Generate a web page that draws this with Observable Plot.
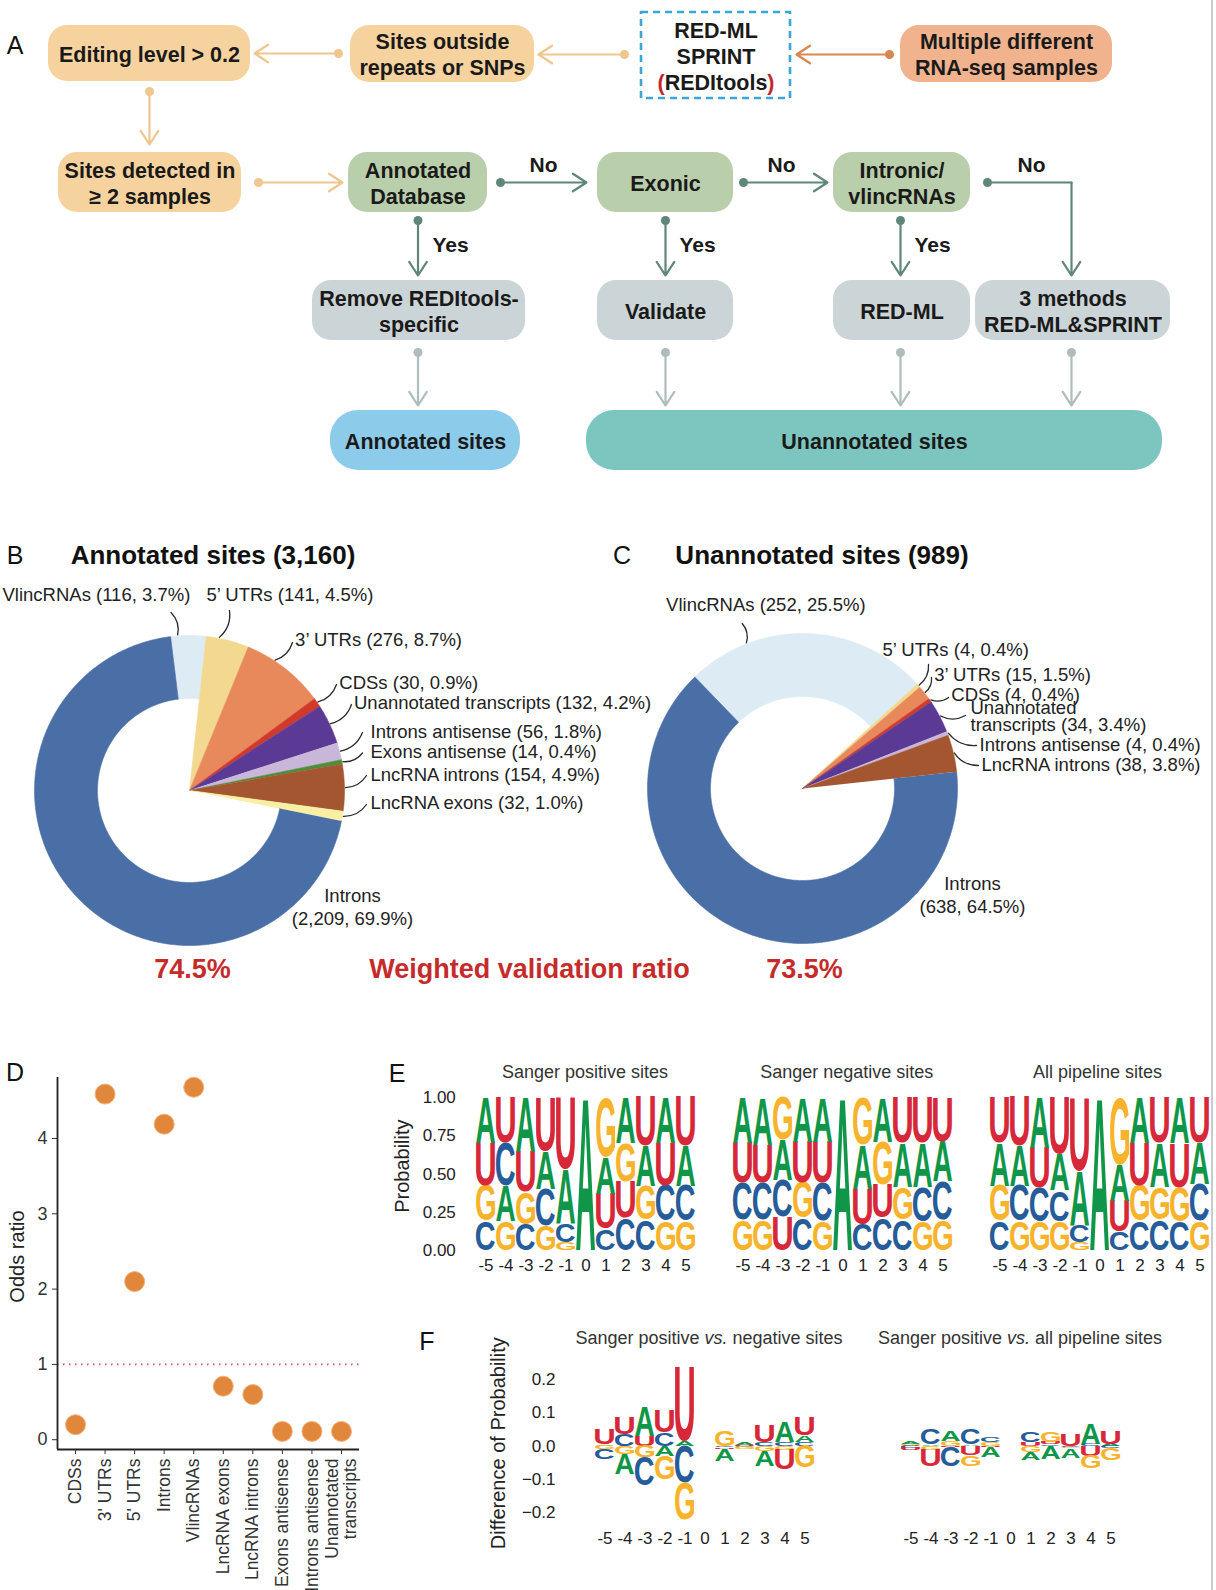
<!DOCTYPE html>
<html><head><meta charset="utf-8">
<script src="https://cdn.jsdelivr.net/npm/d3@7"></script>
<script src="https://cdn.jsdelivr.net/npm/@observablehq/plot@0.6"></script>
<style>
html,body{margin:0;padding:0;background:#fff;overflow:hidden;}
#fig{position:relative;width:1216px;height:1590px;overflow:hidden;font-family:"Liberation Sans",Arial,Helvetica,sans-serif;color:#111;}
.abs{position:absolute;white-space:nowrap;line-height:1;transform:translate(-50%,-50%);}
</style></head>
<body><div id="fig"></div>
<script>
// ---------------- DATA ----------------
// Panel A flowchart texts
const flowLabels = ["Editing level > 0.2","Sites outside\nrepeats or SNPs","Multiple different\nRNA-seq samples",
  "Sites detected in\n≥ 2 samples","Annotated\nDatabase","Exonic","Intronic/\nvlincRNAs",
  "Remove REDItools-\nspecific","Validate","RED-ML","3 methods\nRED-ML&SPRINT"];
const siteLabels = ["Annotated sites","Unannotated sites"];
const toolLabel = "RED-ML\nSPRINT\n(REDItools)";
// Panel B / C
const pieCats = ["VlincRNAs","5’ UTRs","3’ UTRs","CDSs","Unannotated transcripts","Introns antisense","Exons antisense","LncRNA introns","LncRNA exons","Introns"];
const pieColors = ["#dcebf4","#f3d98f","#e8895c","#d13a2b","#5b3a96","#c9b6d9","#4b8f3b","#a3562f","#f6efa4","#4a6ea6"];
const ringCats = ["Introns","VlincRNAs"];
const annotatedCats = ["VlincRNAs","5’ UTRs","3’ UTRs","CDSs","Unannotated transcripts","Introns antisense","Exons antisense","LncRNA introns","LncRNA exons","Introns"];
const annotatedCounts = [116,141,276,30,132,56,14,154,32,2209];
const unannotatedCats = ["VlincRNAs","5’ UTRs","3’ UTRs","CDSs","Unannotated transcripts","Introns antisense","LncRNA introns","Introns"];
const unannotatedCounts = [252,4,15,4,34,4,38,638];
const validationRatio = ["74.5%","73.5%"];
// Panel D
const oddsCats = ["CDSs","3' UTRs","5' UTRs","Introns","VlincRNAs","LncRNA exons","LncRNA introns","Exons antisense","Introns antisense","Unannotated\ntranscripts"];
const oddsRatio = [0.2,4.59,2.1,4.19,4.68,0.71,0.6,0.11,0.11,0.11];
// Panel E (probabilities per position -5..5)
const logoPositions = [-5,-4,-3,-2,-1,0,1,2,3,4,5];
const nuc = ["A","C","G","U"];
const posA = [0.30,0.23,0.36,0.25,0.36,1,0.24,0.30,0.26,0.30,0.26];
const posC = [0.19,0.28,0.17,0.24,0.12,0,0.14,0.21,0.20,0.23,0.23];
const posG = [0.23,0.19,0.21,0.16,0.05,0,0.39,0.25,0.22,0.19,0.19];
const posU = [0.28,0.30,0.26,0.35,0.47,0,0.23,0.24,0.32,0.28,0.32];
const negA = [0.30,0.31,0.26,0.29,0.29,1,0.29,0.29,0.29,0.29,0.26];
const negC = [0.24,0.24,0.24,0.21,0.25,0,0.17,0.21,0.20,0.22,0.25];
const negG = [0.20,0.20,0.28,0.23,0.19,0,0.31,0.28,0.21,0.19,0.20];
const negU = [0.26,0.25,0.22,0.27,0.27,0,0.23,0.22,0.30,0.30,0.29];
const allA = [0.28,0.26,0.33,0.24,0.36,1,0.24,0.30,0.29,0.30,0.27];
const allC = [0.19,0.23,0.22,0.20,0.11,0,0.12,0.19,0.20,0.19,0.24];
const allG = [0.23,0.19,0.19,0.19,0.05,0,0.44,0.23,0.21,0.22,0.19];
const allU = [0.30,0.32,0.26,0.37,0.48,0,0.20,0.28,0.30,0.29,0.30];
// Panel F (difference of probability)
const dPN_A = [0.005,-0.06,0.09,-0.03,0.015,0,-0.035,0.008,-0.045,0.06,0.02];
const dPN_C = [-0.03,0.035,-0.085,0.04,-0.11,0,-0.005,-0.004,0.01,0.012,0.01];
const dPN_G = [-0.01,-0.025,-0.035,-0.07,-0.11,0,0.045,-0.006,-0.015,-0.012,-0.065];
const dPN_U = [0.045,0.05,0.03,0.065,0.22,0,-0.005,0.002,0.05,-0.06,0.055];
const dPA_A = [0.008,0.005,0.03,0.004,-0.03,0,-0.022,-0.04,-0.028,0.062,0.006];
const dPA_C = [-0.006,0.045,-0.058,0.045,0.016,0,0.03,0.004,-0.004,0.006,-0.008];
const dPA_G = [0.006,-0.012,0.015,-0.033,0.012,0,-0.02,0.032,-0.004,-0.038,-0.034];
const dPA_U = [-0.008,-0.05,-0.005,-0.027,-0.004,0,0.01,0.006,0.033,-0.03,0.04];

// ---------------- LAYOUT / STYLE ----------------
const FONT = '"Liberation Sans", Arial, Helvetica, sans-serif';
const LOGOFONT = '"Liberation Sans"';
const nucColors = ["#109648","#255C99","#F7B32B","#D62839"];
const baseStyle = {fontFamily: FONT, background: "transparent", overflow: "visible", maxWidth: "none"};
const fig = document.getElementById("fig");
function place(el, left, top){ el.style.position="absolute"; el.style.left=left+"px"; el.style.top=top+"px"; fig.appendChild(el); return el; }
function txt(html, cx, cy, css){ const d=document.createElement("div"); d.className="abs"; d.innerHTML=html; d.style.cssText += `left:${cx}px;top:${cy}px;`+(css||""); fig.appendChild(d); return d; }

const C_TAN="#F6D39E", C_PEACH="#F1B38E", C_SAGE="#B9CEAA", C_GRAY="#CBD4D6", C_LBLUE="#8DCBEB", C_TEAL="#7DC6BF";
const A_TAN="#EEC68E", A_OR="#D8874F", A_GR="#5F8679", A_LT="#AEBDBC";
// box frames for flowLabels (pixel layout)
const flowBoxFrames = [
  [48,250,25,81,C_TAN],[350,534,25,82,C_TAN],[900,1112,25,82,C_PEACH],
  [58,241,152,212,C_TAN],[348,487,152,212,C_SAGE],[597,733,152,212,C_SAGE],[833,970,152,212,C_SAGE],
  [312,525,280,340,C_GRAY],[597,733,280,340,C_GRAY],[833,970,280,340,C_GRAY],[975,1170,280,340,C_GRAY]];
const siteFrames = [[330,520,410,470,C_LBLUE],[586,1162,410,470,C_TEAL]];
const toolFrame = [641,790,12,98];
const flowArrowLayout = [
  [338,53,254,53,A_TAN,1],[624,54,538,54,A_TAN,1],[889,54,796,54,A_OR,1],
  [149,91,149,144,A_TAN,1],[258,182,342,182,A_TAN,1],[500,182,586,182,A_GR,1],[743,182,827,182,A_GR,1],
  [417.5,220,417.5,275,A_GR,1],[665,220,665,275,A_GR,1],[900,220,900,275,A_GR,1],[1071,182,1071,275,A_GR,0],
  [417.5,352,417.5,405,A_LT,1],[665,352,665,405,A_LT,1],[900,352,900,405,A_LT,1],[1071,352,1071,405,A_LT,1]];
const flowNotes = [["No",543,165],["No",781,165],["No",1031,165],["Yes",450,245],["Yes",697,245],["Yes",932,245]];

// ---------------- PANEL A ----------------
function drawFlow(){
  const boxes = flowLabels.map((t,i)=>({label:t,x1:flowBoxFrames[i][0],x2:flowBoxFrames[i][1],y1:flowBoxFrames[i][2],y2:flowBoxFrames[i][3],fill:flowBoxFrames[i][4]}));
  const sites = siteLabels.map((t,i)=>({label:t,x1:siteFrames[i][0],x2:siteFrames[i][1],y1:siteFrames[i][2],y2:siteFrames[i][3],fill:siteFrames[i][4]}));
  const tool = [{label:toolLabel,x1:toolFrame[0],x2:toolFrame[1],y1:toolFrame[2],y2:toolFrame[3]}];
  const arrows = flowArrowLayout.map(a=>({x1:a[0],y1:a[1],x2:a[2],y2:a[3],c:a[4],dot:a[5]}));
  const elbow = [{x:987,y:182},{x:1071,y:182}];
  const notes = flowNotes.map(n=>({t:n[0],x:n[1],y:n[2]}));
  const all = boxes.concat(sites, tool);
  const p = Plot.plot({
    width:1216, height:480, margin:0,
    x:{domain:[0,1216], range:[0,1216], axis:null},
    y:{domain:[0,480], range:[0,480], axis:null},
    color:{type:"identity"},
    style: baseStyle,
    marks:[
      Plot.rect(boxes,{x1:"x1",x2:"x2",y1:"y1",y2:"y2",fill:"fill",rx:19}),
      Plot.rect(sites,{x1:"x1",x2:"x2",y1:"y1",y2:"y2",fill:"fill",rx:28}),
      Plot.rect(tool,{x1:"x1",x2:"x2",y1:"y1",y2:"y2",fill:"none",stroke:"#3AA6D8",strokeWidth:2.6,strokeDasharray:"7,5"}),
      Plot.line(elbow,{x:"x",y:"y",stroke:A_GR,strokeWidth:2.2}),
      Plot.dot([elbow[0]],{x:"x",y:"y",r:4.5,fill:A_GR}),
      Plot.arrow(arrows,{x1:"x1",y1:"y1",x2:"x2",y2:"y2",stroke:"c",strokeWidth:2.2,headLength:11,headAngle:66}),
      Plot.dot(arrows.filter(d=>d.dot),{x:"x1",y:"y1",r:4.5,fill:"c"}),
      Plot.text(all,{x:d=>(d.x1+d.x2)/2,y:d=>(d.y1+d.y2)/2,text:"label",fontWeight:"bold",fontSize:21.5,lineHeight:1.2,fill:"#1a1a1a"}),
      Plot.text(notes,{x:"x",y:"y",text:"t",fontWeight:"bold",fontSize:21,fill:"#1a1a1a"})
    ]
  });
  place(p,0,0);
  p.querySelectorAll("tspan").forEach(ts=>{
    if (ts.textContent === "(REDItools)") ts.innerHTML = '<tspan fill="#C4262E">(</tspan>REDItools<tspan fill="#C4262E">)</tspan>';
  });
}

// ---------------- PANELS B / C ----------------
const annotLabelLayout = [ // [textX,textY,leadX,leadY,frac,mode] relative to pie centre
  [-187,-195,-18.5,-178,0.2,0],[17,-195,40,-180,0.3,0],[105.6,-150,103,-148,0.35,0],
  [149.8,-107,147,-106,0.5,0],[164.5,-87,162,-86,0.5,0],[181,-58.3,173,-58,0.5,0],
  [181,-38.3,173,-37.5,0.5,0],[181,-15,177,-15,0.5,0],[181,13,177,14,0.5,0],[163,116,null,null,0,1]];
const unannotLabelLayout = [
  [-136.4,-183,-60.3,-165,0.25,0],[80,-138,126,-124,0.5,0],[131.7,-113,129,-111,0.5,0],
  [148.8,-93,146,-91,0.5,0],[168,-71.5,163,-73,0.5,2],[177,-43,174,-43,0.5,0],
  [179,-23,176,-23,0.5,0],[170,106,null,null,0,1]];

function drawPie(cats, counts, startDeg, layout, left, top, w, h, cx, cy){
  const R = 155, RI = 92, rad = Math.PI/180;
  const total = d3.sum(counts);
  let a = startDeg;
  const slices = cats.map((c,i)=>{ const span = counts[i]/total*360; const s={cat:c,count:counts[i],pct:(counts[i]/total*100).toFixed(1),a0:a,a1:a+span}; a+=span; return s; });
  const pts = [];
  slices.forEach(s=>{
    const ring = ringCats.includes(s.cat);
    const n = Math.max(3, Math.ceil((s.a1-s.a0)*2));
    const ang = d3.range(n+1).map(k=>s.a0+(s.a1-s.a0)*k/n);
    if(!ring) pts.push({cat:s.cat,x:0,y:0});
    ang.forEach(t=>pts.push({cat:s.cat,x:R*Math.sin(t*rad),y:-R*Math.cos(t*rad)}));
    if(ring) ang.slice().reverse().forEach(t=>pts.push({cat:s.cat,x:RI*Math.sin(t*rad),y:-RI*Math.cos(t*rad)}));
  });
  const fmt = d3.format(",");
  const side=[], center=[], leaders=[];
  slices.forEach((s,i)=>{
    const L = layout[i]; const nums = `(${fmt(s.count)}, ${s.pct}%)`;
    if (L[5]===1) { center.push({x:L[0],y:L[1],text:`${s.cat}\n${nums}`}); return; }
    const name = L[5]===2 ? s.cat.replace(" ","\n") : s.cat;
    side.push({x:L[0],y:L[1],text:`${name} ${nums}`});
    const t = (s.a0+(s.a1-s.a0)*L[4])*rad;
    leaders.push({x1:L[2],y1:L[3],x2:(R+1)*Math.sin(t),y2:-(R+1)*Math.cos(t)});
  });
  const p = Plot.plot({
    width:w, height:h, margin:0,
    x:{domain:[-cx,w-cx],range:[0,w],axis:null},
    y:{domain:[-cy,h-cy],range:[0,h],axis:null},
    color:{domain:pieCats,range:pieColors},
    style: baseStyle,
    marks:[
      Plot.line(pts,{x:"x",y:"y",z:"cat",fill:"cat",stroke:"cat",strokeWidth:0.6}),
      Plot.arrow(leaders,{x1:"x1",y1:"y1",x2:"x2",y2:"y2",bend:28,headLength:0,stroke:"#2a2a2a",strokeWidth:1.3}),
      Plot.text(side,{x:"x",y:"y",text:"text",textAnchor:"start",fontSize:18.5,lineHeight:0.92,fill:"#222"}),
      Plot.text(center,{x:"x",y:"y",text:"text",textAnchor:"middle",fontSize:18.5,lineHeight:1.24,fill:"#222"})
    ]
  });
  place(p,left,top);
}

// ---------------- PANEL D ----------------
function drawOdds(){
  const pts = oddsCats.map((c,i)=>({i,v:oddsRatio[i]}));
  const p = Plot.plot({
    width:375, height:530, marginLeft:57, marginRight:16, marginTop:17, marginBottom:141,
    x:{domain:[-0.61,9.61]}, y:{domain:[-0.13,4.81]},
    style:{...baseStyle,color:"#333"},
    marks:[
      Plot.ruleY([1],{stroke:"#D9534F",strokeWidth:1.8,strokeDasharray:"1.5,4.5"}),
      Plot.ruleX([-0.61],{stroke:"#222",strokeWidth:1.8}),
      Plot.ruleY([-0.13],{stroke:"#222",strokeWidth:1.8}),
      Plot.axisY({ticks:[0,1,2,3,4],tickFormat:d3.format("d"),tickSize:5,tickPadding:5,fontSize:18,label:null}),
      Plot.axisX({ticks:d3.range(oddsCats.length),tickFormat:i=>oddsCats[i],tickRotate:-90,tickSize:5,tickPadding:4,fontSize:17.5,label:null}),
      Plot.dot(pts,{x:"i",y:"v",r:10,fill:"#E0873C",stroke:"#F2B37C",strokeWidth:1}),
      Plot.text(["Odds ratio"],{frameAnchor:"left",textAnchor:"middle",rotate:-90,dx:-40,dy:-7,fontSize:20,fill:"#222"})
    ]
  });
  place(p,0,1060);
}

// ---------------- PANELS E / F ----------------
function stackProb(A,C,G,U){
  const out=[];
  logoPositions.forEach((p,i)=>{
    const v=[["A",A[i]],["C",C[i]],["G",G[i]],["U",U[i]]].filter(d=>d[1]>0).sort((a,b)=>a[1]-b[1]);
    let y=0; for(const [l,h] of v){ out.push({pos:p,letter:l,y1:y,y2:y+h}); y+=h; }
  });
  return out;
}
function stackDiff(A,C,G,U){
  const out=[];
  logoPositions.forEach((p,i)=>{
    const v=[["A",A[i]],["C",C[i]],["G",G[i]],["U",U[i]]];
    let up=0, dn=0;
    v.filter(d=>d[1]>0).sort((a,b)=>a[1]-b[1]).forEach(([l,h])=>{out.push({pos:p,letter:l,y1:up,y2:up+h}); up+=h;});
    v.filter(d=>d[1]<0).sort((a,b)=>b[1]-a[1]).forEach(([l,h])=>{out.push({pos:p,letter:l,y1:dn+h,y2:dn}); dn+=h;});
  });
  return out;
}
const mctx = document.createElement("canvas").getContext("2d");
const metricCache = {};
function inkMetrics(letter){
  if(!metricCache[letter]){
    mctx.font = `bold 100px ${LOGOFONT}`;
    const m = mctx.measureText(letter);
    metricCache[letter] = {l:m.actualBoundingBoxLeft, r:m.actualBoundingBoxRight, a:m.actualBoundingBoxAscent, d:m.actualBoundingBoxDescent};
  }
  return metricCache[letter];
}
function shapeLetters(svg, data){
  const xs = svg.scale("x"), ys = svg.scale("y");
  const bw = xs.bandwidth;
  const g = [...svg.querySelectorAll("g")].find(g=>g.children.length===data.length && [...g.children].every((t,i)=>t.tagName.toLowerCase()==="text" && t.textContent===data[i].letter));
  if(!g) return;
  g.removeAttribute("transform");
  g.setAttribute("text-anchor","start");
  [...g.children].forEach((t,i)=>{
    const d = data[i], m = inkMetrics(d.letter);
    const x0 = xs.apply(d.pos), yb = ys.apply(d.y1), yt = ys.apply(d.y2);
    const hgt = Math.max(0.01, yb-yt);
    const sx = bw/(m.l+m.r), sy = hgt/(m.a+m.d);
    t.removeAttribute("x"); t.removeAttribute("y"); t.removeAttribute("dy");
    t.setAttribute("font-size","100"); t.setAttribute("font-weight","bold"); t.setAttribute("font-family",LOGOFONT);
    t.setAttribute("text-anchor","start");
    t.setAttribute("transform",`translate(${x0},${yt}) scale(${sx},${sy}) translate(${m.l},${m.a})`);
  });
}
function drawLogo(o){
  const marks = [
    Plot.text(o.stack,{x:"pos",y:"y1",text:"letter",fill:"letter",fontSize:100,fontWeight:"bold",textAnchor:"start"}),
    Plot.axisX({tickSize:0,tickPadding:o.xPad,fontSize:17,tickFormat:d=>String(d),label:null})
  ];
  if (o.yTicks) marks.push(Plot.axisY({ticks:o.yTicks,tickFormat:o.yFmt,tickSize:0,tickPadding:o.yPad,fontSize:17,label:null}));
  if (o.yLabel) marks.push(Plot.text([o.yLabel],{frameAnchor:"left",textAnchor:"middle",rotate:-90,dx:o.yLabelDx,dy:o.yLabelDy||0,fontSize:20,fill:"#222"}));
  const p = Plot.plot({
    width:o.w, height:o.h, marginLeft:o.mL, marginRight:o.mR, marginTop:o.mT, marginBottom:o.mB,
    x:{type:"band",domain:logoPositions,paddingInner:0.06,paddingOuter:0.02},
    y:o.yTicks ? {domain:o.yDomain} : {domain:o.yDomain, axis:null},
    color:{domain:nuc,range:nucColors},
    style:{...baseStyle,color:"#222"},
    marks
  });
  place(p,o.left,o.top);
  shapeLetters(p,o.stack);
}

async function main(){
  try { await document.fonts.load(`bold 100px ${LOGOFONT}`); } catch(e) {}
  drawFlow();
  drawPie(annotatedCats, annotatedCounts, -7, annotLabelLayout, 0, 570, 670, 390, 189, 220);
  drawPie(unannotatedCats, unannotatedCounts, -44, unannotLabelLayout, 620, 570, 596, 390, 182, 218);
  drawOdds();
  const eCommon = {h:230, top:1060, mT:37.3, mB:40, yDomain:[0,1], xPad:8};
  drawLogo({...eCommon, stack:stackProb(posA,posC,posG,posU), left:380, w:320, mL:93.3, mR:1.7,
    yTicks:[0,0.25,0.5,0.75,1], yFmt:d3.format(".2f"), yPad:18, yLabel:"Probability", yLabelDx:-71.6, yLabelDy:-8});
  drawLogo({...eCommon, stack:stackProb(negA,negC,negG,negU), left:720, w:240, mL:10, mR:5});
  drawLogo({...eCommon, stack:stackProb(allA,allC,allG,allU), left:977, w:240, mL:10, mR:5});
  const fCommon = {h:260, top:1300, mT:55.5, mB:34.1, yDomain:[-0.24,0.27], xPad:6};
  drawLogo({...fCommon, stack:stackDiff(dPN_A,dPN_C,dPN_G,dPN_U), left:470, w:354, mL:119.6, mR:5.3,
    yTicks:[-0.2,-0.1,0,0.1,0.2], yFmt:d3.format(".1f"), yPad:34.6, yLabel:"Difference of Probability", yLabelDx:-91.6, yLabelDy:2});
  drawLogo({...fCommon, stack:stackDiff(dPA_A,dPA_C,dPA_G,dPA_U), left:880, w:260, mL:16.3, mR:14.6});

  // Texts
  const L = "font-size:25px;color:#111;";
  txt("A",15,45,L); txt("B",15,555,L); txt("C",622,555,L); txt("D",15,1072,L); txt("E",397,1073,L); txt("F",427,1341,L);
  const fmt = d3.format(",");
  const T = "font-size:26px;font-weight:bold;color:#111;";
  txt(`Annotated sites (${fmt(d3.sum(annotatedCounts))})`,213,555,T);
  txt(`Unannotated sites (${fmt(d3.sum(unannotatedCounts))})`,822,555,T);
  const R = "font-size:27px;font-weight:bold;color:#C62B2B;";
  txt(validationRatio[0],192.5,969,R); txt("Weighted validation ratio",529.5,969,R); txt(validationRatio[1],804.6,969,R);
  const S = "font-size:18px;color:#333;";
  txt("Sanger positive sites",585,1072,S); txt("Sanger negative sites",846.7,1072,S); txt("All pipeline sites",1097.5,1072,S);
  txt("Sanger positive <i>vs.</i> negative sites",709,1338,S);
  txt("Sanger positive <i>vs.</i> all pipeline sites",1020,1338,S);
  const border = document.createElement("div");
  border.style.cssText = "position:absolute;left:1211px;top:0;width:2px;height:1590px;background:#c9c9c9;";
  fig.appendChild(border);
}
main();
</script>
</body></html>
